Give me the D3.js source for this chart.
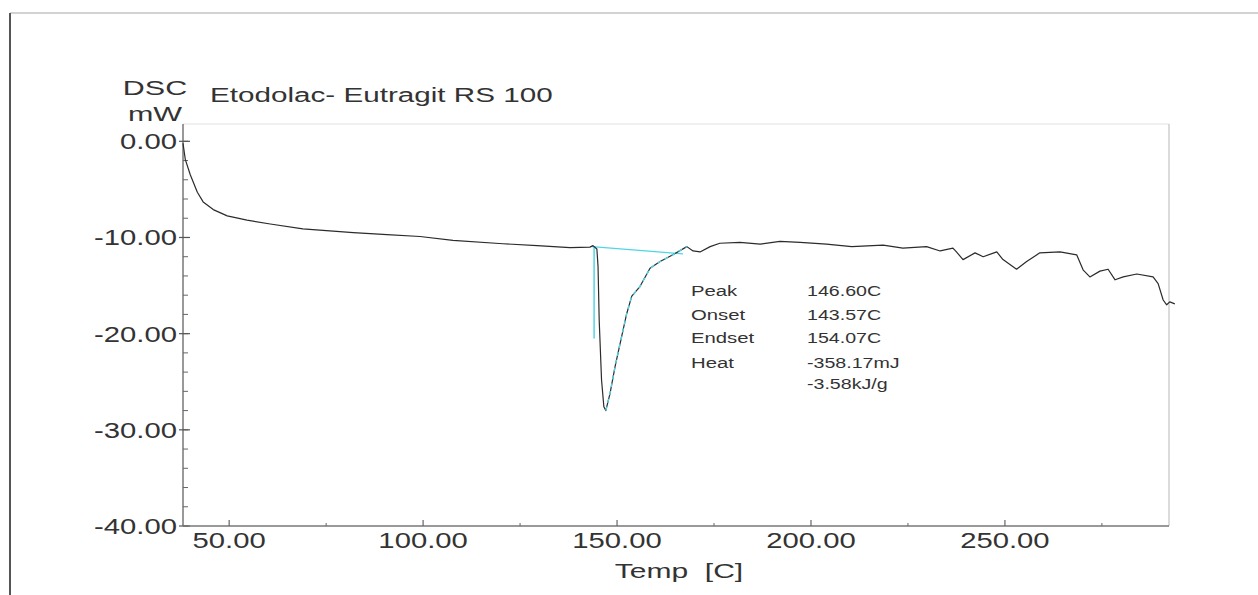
<!DOCTYPE html>
<html>
<head>
<meta charset="utf-8">
<script src="https://cdn.jsdelivr.net/npm/d3@7"></script>
<style>
    body { margin: 0; background: #fff; }
    svg { display: block; }
    text { font-family: 'Liberation Sans', Arial, sans-serif; fill: #333; }
</style>
</head>
<body>
<svg id="chart" width="1258" height="595"></svg>
<script>
// DSC trace: temperature [C] and heat flow [mW]
const temps = [38.1, 38.7, 40.0, 41.8, 43.3, 45.9, 49.5, 54.6, 60.6, 69, 82, 90.7, 99.2, 107.7,
    120.6, 129.4, 137.9, 143.0, 143.8, 144.8, 145.1, 145.4, 146.0, 146.6, 147.1, 148.2, 149.5,
    150.8, 152.5, 153.8, 155.9, 158.5, 161.1, 164.4, 168, 169.6, 171.4, 174, 176.5, 181.7, 186.9,
    192, 197.2, 204, 210.5, 218.6, 223.7, 229.8, 233.3, 236.6, 237.5, 239.2, 242.3, 244.4, 247.9,
    249.5, 253, 255.6, 259, 264.2, 268.5, 270.2, 271.9, 274.5, 276.6, 278.4, 280.5, 284, 288.2,
    289.5, 290.8, 291.7, 292.5, 293.8];
const dsc = [-0.2, -1.9, -3.5, -5.3, -6.3, -7.1, -7.75, -8.2, -8.6, -9.1, -9.5, -9.7, -9.9, -10.3,
    -10.65, -10.85, -11.05, -11.0, -10.85, -11.2, -13.0, -18.6, -24.8, -27.6, -28.0, -26.2, -23.4,
    -21.0, -17.9, -16.1, -15.1, -13.2, -12.5, -11.8, -10.95, -11.4, -11.5, -10.95, -10.6, -10.5, -10.7,
    -10.4, -10.5, -10.7, -10.95, -10.8, -11.1, -10.95, -11.4, -11.1, -11.5, -12.3, -11.6, -12.0, -11.5,
    -12.3, -13.3, -12.5, -11.6, -11.5, -11.8, -13.4, -14.1, -13.5, -13.3, -14.4, -14.1, -13.8, -14.1,
    -14.8, -16.5, -17.0, -16.7, -16.9];

// integration baseline and onset marker
const baselineT = [143.57, 167.0];
const baselineV = [-10.95, -11.7];
const onsetDrop = [-10.95, -20.5];
const flankRange = [147.1, 168];

const xTicks = [50, 100, 150, 200, 250];
const xMinorTicks = [75, 125, 175, 225, 275];
const yTicks = [0, -10, -20, -30, -40];

const resultLabels = ['Peak', 'Onset', 'Endset', 'Heat', ''];
const resultValues = ['146.60C', '143.57C', '154.07C', '-358.17mJ', '-3.58kJ/g'];

const title = 'Etodolac- Eutragit RS 100';

const svg = d3.select('#chart');
const plot = { left: 183, right: 1169, top: 124, bottom: 526 };

const x = d3.scaleLinear().domain([38.1, 292.3]).range([plot.left, plot.right]);
const y = d3.scaleLinear().domain([-40, 1.8]).range([plot.bottom, plot.top]);

// plain hyphen minus like the instrument printout
const fmt = v => d3.format('.2f')(v).replace('\u2212', '-');

// stretch text horizontally like the original print
function stretch(sel, factor) {
    sel.each(function () {
        const len = this.getComputedTextLength();
        d3.select(this).attr('textLength', len * factor).attr('lengthAdjust', 'spacingAndGlyphs');
    });
    return sel;
}

// outer page frame
svg.append('line').attr('x1', 10).attr('x2', 1258).attr('y1', 13).attr('y2', 13)
    .attr('stroke', '#d2d2d2').attr('stroke-width', 2);
svg.append('line').attr('x1', 10).attr('x2', 10).attr('y1', 13).attr('y2', 595)
    .attr('stroke', '#555').attr('stroke-width', 2);

// plot frame (top and right, light)
svg.append('line').attr('x1', plot.left).attr('x2', plot.right).attr('y1', plot.top).attr('y2', plot.top)
    .attr('stroke', '#e2e2e2').attr('stroke-width', 1);
svg.append('line').attr('x1', plot.right).attr('x2', plot.right).attr('y1', plot.top).attr('y2', plot.bottom)
    .attr('stroke', '#cfcfcf').attr('stroke-width', 1.5);

// y axis
const yAxis = svg.append('g').attr('transform', `translate(${plot.left},0)`);
yAxis.append('line').attr('y1', plot.top).attr('y2', plot.bottom).attr('stroke', '#777').attr('stroke-width', 1.5);
yAxis.selectAll('.minor').data(d3.range(-40, 1, 2)).join('line')
    .attr('class', 'minor')
    .attr('x1', 0).attr('x2', 5)
    .attr('y1', d => y(d)).attr('y2', d => y(d))
    .attr('stroke', '#666');
yAxis.selectAll('.major').data(yTicks).join('line')
    .attr('class', 'major')
    .attr('x1', -4).attr('x2', 7)
    .attr('y1', d => y(d)).attr('y2', d => y(d))
    .attr('stroke', '#555').attr('stroke-width', 1.2);
stretch(yAxis.selectAll('.ylabel').data(yTicks).join('text')
    .attr('class', 'ylabel')
    .attr('x', -6)
    .attr('y', d => y(d) + 8)
    .attr('text-anchor', 'end')
    .attr('font-size', 22.5)
    .text(fmt), 1.3);

// x axis
const xAxis = svg.append('g').attr('transform', `translate(0,${plot.bottom})`);
xAxis.append('line').attr('x1', plot.left).attr('x2', plot.right).attr('stroke', '#777').attr('stroke-width', 1.5);
xAxis.selectAll('.minor').data(xMinorTicks).join('line')
    .attr('class', 'minor')
    .attr('x1', d => x(d)).attr('x2', d => x(d))
    .attr('y1', 0).attr('y2', -3)
    .attr('stroke', '#666');
xAxis.selectAll('.major').data(xTicks).join('line')
    .attr('class', 'major')
    .attr('x1', d => x(d)).attr('x2', d => x(d))
    .attr('y1', 0).attr('y2', -6)
    .attr('stroke', '#666').attr('stroke-width', 1.2);
stretch(xAxis.selectAll('.xlabel').data(xTicks).join('text')
    .attr('class', 'xlabel')
    .attr('x', d => x(d))
    .attr('y', 22)
    .attr('text-anchor', 'middle')
    .attr('font-size', 22.5)
    .text(fmt), 1.3);
stretch(svg.append('text')
    .attr('x', (plot.left + plot.right) / 2 + 3)
    .attr('y', 578)
    .attr('text-anchor', 'middle')
    .attr('font-size', 20)
    .attr('xml:space', 'preserve')
    .text('Temp  [C]'), 1.5);

// axis unit and title
stretch(svg.append('text').attr('x', 155).attr('y', 95).attr('text-anchor', 'middle')
    .attr('font-size', 21).text('DSC'), 1.45);
stretch(svg.append('text').attr('x', 155).attr('y', 121).attr('text-anchor', 'middle')
    .attr('font-size', 21).text('mW'), 1.45);
stretch(svg.append('text').attr('x', 210).attr('y', 102)
    .attr('font-size', 19.5).text(title), 1.52);

// integration helpers (cyan)
const cyan = '#4fd6e6';
svg.append('line')
    .attr('x1', x(baselineT[0])).attr('y1', y(baselineV[0]))
    .attr('x2', x(baselineT[1])).attr('y2', y(baselineV[1]))
    .attr('stroke', cyan).attr('stroke-width', 1.2);
svg.append('line')
    .attr('x1', x(baselineT[0]) + 2).attr('y1', y(onsetDrop[0]))
    .attr('x2', x(baselineT[0]) + 2).attr('y2', y(onsetDrop[1]))
    .attr('stroke', cyan).attr('stroke-width', 1.5);

// main trace
const points = temps.map((t, i) => ({ t, v: dsc[i] }));
const line = d3.line().x(d => x(d.t)).y(d => y(d.v));
svg.append('path')
    .datum(points)
    .attr('fill', 'none')
    .attr('stroke', '#2b2b2b')
    .attr('stroke-width', 1.2)
    .attr('stroke-linejoin', 'round')
    .attr('d', line);

// cyan overlay along the peak flank
svg.append('path')
    .datum(points.filter(d => d.t >= flankRange[0] && d.t <= flankRange[1]))
    .attr('fill', 'none')
    .attr('stroke', cyan)
    .attr('stroke-width', 1.4)
    .attr('stroke-dasharray', '4,4')
    .attr('d', line);

// peak results
const results = svg.append('g').attr('font-size', 14);
const rowY = [296, 320, 343, 368, 389];
stretch(results.selectAll('.rlabel').data(resultLabels).join('text')
    .attr('class', 'rlabel')
    .attr('x', 691)
    .attr('y', (d, i) => rowY[i])
    .text(d => d), 1.45);
stretch(results.selectAll('.rvalue').data(resultValues).join('text')
    .attr('class', 'rvalue')
    .attr('x', 807)
    .attr('y', (d, i) => rowY[i])
    .text(d => d), 1.4);
</script>
</body>
</html>
